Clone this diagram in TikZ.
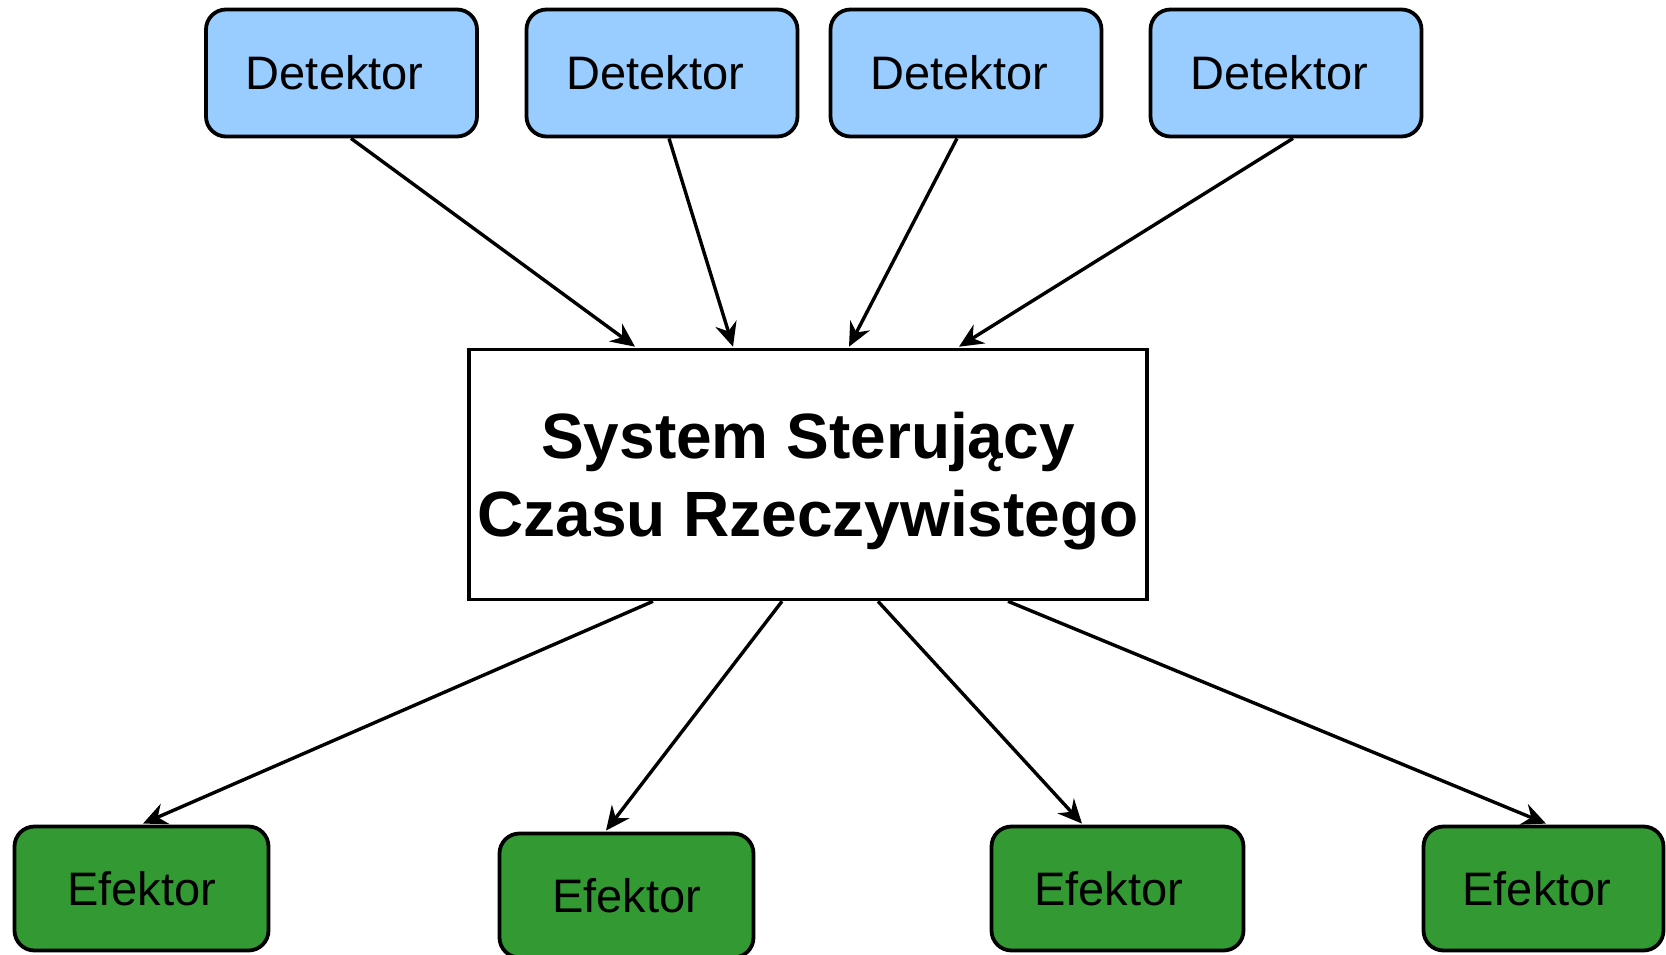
\documentclass[tikz,border=0pt]{standalone}
\usepackage{fontspec}
\setmainfont{Liberation Sans}
\usetikzlibrary{arrows.meta,calc}
\definecolor{detfill}{HTML}{99CCFF}
\definecolor{effill}{HTML}{339933}
\begin{document}
\begin{tikzpicture}[x=0.5pt,y=-0.5pt,
  detbox/.style={draw=black, line width=1.9pt, fill=detfill, rounded corners=10pt,
    minimum width=135.5pt, minimum height=63.5pt, inner sep=0pt,
    text width=125pt, align=center,
    font=\fontsize{23.5}{28}\selectfont},
  efbox/.style={draw=black, line width=1.9pt, fill=effill, rounded corners=10pt,
    minimum height=62pt, inner sep=0pt,
    font=\fontsize{23.5}{28}\selectfont},
  ctrlbox/.style={draw=black, line width=1.8pt, fill=white,
    minimum width=339pt, minimum height=125pt, inner sep=0pt, align=center,
    text depth=0pt, font=\fontsize{32}{39}\selectfont\bfseries},
  link/.style={line width=1.7pt, -{Stealth[length=12pt,width=11pt,inset=4pt]}}
]
\useasboundingbox (0,0) rectangle (1666,954);

% sensors
\node[detbox] (d1) at (341.5,73) {\hspace*{-6.8pt}Detektor};
\node[detbox] (d2) at (662,73) {\hspace*{-6.8pt}Detektor};
\node[detbox] (d3) at (966,73) {\hspace*{-6.8pt}Detektor};
\node[detbox] (d4) at (1286,73) {\hspace*{-6.8pt}Detektor};

% controller
\node[ctrlbox] (c) at (808,474.5) {System Steruj\k{a}cy\\Czasu Rzeczywistego};

% actuators
\node[efbox, minimum width=127pt] (e1) at (141.5,888.5) {Efektor};
\node[efbox, minimum width=127pt] (e2) at (626.5,895.5) {Efektor};
\node[efbox, minimum width=126pt, text width=118pt, align=center] (e3) at (1117.5,888.5) {\hspace*{-8.7pt}Efektor};
\node[efbox, minimum width=120pt, text width=112pt, align=center] (e4) at (1543.5,888.5) {\hspace*{-6.6pt}Efektor};

% sensor -> controller
\draw[link] ($(d1.south)+(9.5,0)$) -- ($(c.north)+(-173,-1)$);
\draw[link] ($(d2.south)+(7,0)$) -- ($(c.north)+(-75,-1)$);
\draw[link] ($(d3.south)+(-9,0)$) -- ($(c.north)+(41,-1)$);
\draw[link] ($(d4.south)+(7,0)$) -- ($(c.north)+(151,-1)$);

% controller -> actuators
\draw[link] ($(c.south)+(-155,0)$) -- ($(e1.north)+(1.5,-1)$);
\draw[link] ($(c.south)+(-26,0)$) -- ($(e2.north)+(-20.5,-1)$);
\draw[link] ($(c.south)+(70,0)$) -- ($(e3.north)+(-35.5,-1)$);
\draw[link] ($(c.south)+(200,0)$) -- ($(e4.north)+(2.5,-1)$);
\end{tikzpicture}
\end{document}
